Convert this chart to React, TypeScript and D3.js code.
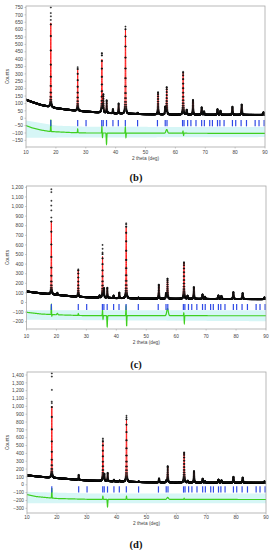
import React from 'react';
import * as d3 from 'd3';

// Bragg reflection positions (2θ, deg)
const braggTicks = [18.3, 27.3, 30.1, 35.35, 35.85, 36.95, 39.1, 40.9, 43.25, 47.35, 54.0, 56.6, 57.2, 62.4, 62.9, 64.1, 65.2, 66.9, 68.8, 69.7, 71.5, 72.4, 74.1, 74.9, 76.3, 79.1, 80.2, 82.0, 83.8, 86.7, 88.0, 89.7];

// Peak positions (2θ) shared by the three patterns
const peakPos = [18.3, 20.3, 27.3, 34.4, 35.4, 35.9, 37.0, 39.1, 41.0, 43.3, 47.4, 54.2, 56.6, 57.1, 62.6, 63.8, 65.9, 68.8, 69.6, 74.1, 75.1, 79.1, 82.2, 89.5];

// Net intensities above background (calculated / observed)
const calcB = [570, 0, 280, 0, 360, 110, 80, 25, 65, 570, 8, 140, 45, 175, 280, 30, 95, 48, 20, 35, 25, 50, 65, 15];
const obsB = [590, 0, 295, 0, 400, 120, 85, 28, 68, 590, 8, 150, 50, 185, 290, 32, 100, 50, 22, 38, 27, 55, 70, 18];
const calcC = [760, 20, 275, 20, 430, 90, 100, 25, 55, 740, 10, 140, 50, 200, 375, 30, 120, 45, 20, 35, 30, 68, 58, 15];
const obsC = [800, 22, 285, 22, 470, 95, 105, 27, 58, 770, 10, 147, 55, 210, 382, 32, 123, 47, 22, 37, 32, 72, 62, 18];
const calcD = [910, 0, 60, 0, 490, 80, 100, 18, 12, 790, 8, 48, 20, 200, 375, 20, 142, 48, 15, 38, 28, 72, 62, 15];
const obsD = [950, 0, 63, 0, 520, 85, 105, 20, 13, 820, 8, 50, 22, 208, 385, 22, 147, 50, 17, 40, 30, 75, 66, 18];

// Extra observed points at peak tops [2θ, counts]
const extraB: [number, number][] = [[18.3, 750], [18.3, 712], [18.32, 690], [35.4, 440]];
const extraC: [number, number][] = [[18.3, 1180], [18.3, 1150], [18.32, 1060], [18.28, 1010], [18.3, 960], [35.4, 600], [35.42, 560], [43.3, 825]];
const extraD: [number, number][] = [[18.3, 1420], [18.3, 1380], [18.32, 1210], [18.28, 1060], [35.4, 590], [43.3, 880]];

// Background anchors [2θ, counts]
const bgB: [number, number][] = [[10, 125], [12, 110], [15, 90], [20, 68], [25, 55], [30, 45], [35, 38], [40, 32], [50, 27], [60, 24], [90, 22]];
const bgC: [number, number][] = [[10, 115], [15, 95], [20, 80], [25, 65], [30, 55], [35, 50], [40, 45], [50, 40], [60, 38], [90, 35]];
const bgD: [number, number][] = [[10, 120], [15, 100], [20, 85], [25, 70], [30, 55], [35, 48], [40, 42], [50, 32], [60, 28], [90, 25]];

// Difference curve baselines and features
const diffBaseB: [number, number][] = [[10, -50], [12, -65], [15, -80], [18, -90], [25, -97], [30, -100], [90, -103]];
const diffBaseC: [number, number][] = [[10, -102], [15, -120], [20, -128], [30, -137], [90, -138]];
const diffBaseD: [number, number][] = [[10, -125], [13, -150], [17, -165], [20, -175], [30, -185], [90, -188]];
const diffFeatB: [number, number, number][] = [[18.3, 80, 0.15], [27.3, 25, 0.15], [35.4, 45, 0.15], [35.6, -30, 0.15], [36.95, -75, 0.2], [43.25, 40, 0.15], [43.45, -30, 0.15], [57.1, 25, 0.6], [62.55, 15, 0.15], [62.75, -15, 0.15]];
const diffFeatC: [number, number, number][] = [[18.3, 100, 0.15], [18.45, -20, 0.15], [20.3, 15, 0.4], [27.3, 20, 0.15], [35.4, 60, 0.15], [35.55, -40, 0.15], [36.95, -115, 0.2], [43.25, 100, 0.15], [43.45, -110, 0.15], [57.1, 75, 0.6], [62.55, 30, 0.15], [62.72, -80, 0.15]];
const diffFeatD: [number, number, number][] = [[18.3, 125, 0.15], [35.4, 40, 0.15], [36.95, -95, 0.2], [43.3, 40, 0.15], [57.1, 25, 0.6], [62.6, 15, 0.15]];

// Light band behind the difference curve [2θ, counts]
const bandTopB: [number, number][] = [[10, -15], [20, -50], [30, -58], [90, -60]];
const bandBotB: [number, number][] = [[10, -132], [90, -128]];
const bandTopC: [number, number][] = [[10, -80], [90, -80]];
const bandBotC: [number, number][] = [[10, -180], [90, -195]];
const bandTopD: [number, number][] = [[10, -90], [30, -110], [90, -110]];
const bandBotD: [number, number][] = [[10, -237], [90, -237]];

const xTicks = [10, 20, 30, 40, 50, 60, 70, 80, 90];

function interp(anchors: [number, number][]) {
  return d3.scaleLinear().domain(anchors.map(a => a[0])).range(anchors.map(a => a[1])).clamp(true);
}

function profile(t: number, heights: number[]) {
  let s = 0;
  for (let i = 0; i < peakPos.length; i++) {
    const h = heights[i];
    if (!h) continue;
    const w = 0.14 + 0.002 * (peakPos[i] - 10);
    const d = (t - peakPos[i]) / w;
    if (Math.abs(d) > 60) continue;
    const L = 1 / (1 + 4 * d * d);
    const G = Math.exp(-4 * Math.LN2 * d * d);
    s += h * (0.45 * L + 0.55 * G);
  }
  return s;
}

const panelDefs = [
  { label: '(b)', x0: 26, x1: 265, y0: 6, y1: 147, yDom: [-195, 760], yTicks: d3.range(-150, 751, 50), labelY: 181, xLabY: 151.8, titleY: 159.5,
    calc: calcB, obs: obsB, extra: extraB, bg: bgB, dBase: diffBaseB, dFeat: diffFeatB, bTop: bandTopB, bBot: bandBotB, tick: [-12, -55] },
  { label: '(c)', x0: 26.5, x1: 266, y0: 186, y1: 329, yDom: [-276, 1214], yTicks: d3.range(-200, 1201, 100), labelY: 368, xLabY: 335.8, titleY: 343.5,
    calc: calcC, obs: obsC, extra: extraC, bg: bgC, dBase: diffBaseC, dFeat: diffFeatC, bTop: bandTopC, bBot: bandBotC, tick: [-15, -77] },
  { label: '(d)', x0: 27, x1: 266, y0: 372, y1: 513, yDom: [-360, 1438], yTicks: d3.range(-300, 1401, 100), labelY: 548, xLabY: 517.5, titleY: 525,
    calc: calcD, obs: obsD, extra: extraD, bg: bgD, dBase: diffBaseD, dFeat: diffFeatD, bTop: bandTopD, bBot: bandBotD, tick: [-20, -100] },
];

const fmt = d3.format(',');
const FONT = 'Liberation Sans, Arial, sans-serif';

function Panel({ p, idx }: { p: typeof panelDefs[number]; idx: number }) {
  const x = d3.scaleLinear().domain([10, 90]).range([p.x0, p.x1]);
  const y = d3.scaleLinear().domain(p.yDom).range([p.y1, p.y0]);
  const bg = interp(p.bg);
  const dBase = interp(p.dBase);
  const bTop = interp(p.bTop);
  const bBot = interp(p.bBot);

  const fine = d3.range(10, 90.0001, 0.005);
  const calcLine = d3.line<number>().x(t => x(t)).y(t => y(bg(t) + profile(t, p.calc)))(fine) || '';

  const step = d3.range(10, 90.0001, 0.02);
  let obsPath = '';
  const a = 0.95;
  const pts: [number, number][] = step.map(t => [t, bg(t) + profile(t, p.obs)] as [number, number]).concat(p.extra);
  for (const [t, v] of pts) {
    const px = x(t), py = y(v);
    obsPath += `M${(px - a).toFixed(2)},${py.toFixed(2)}h${2 * a}M${px.toFixed(2)},${(py - a).toFixed(2)}v${2 * a}`;
  }

  const diffLine = d3.line<number>().x(t => x(t)).y(t => {
    let v = dBase(t);
    for (const [c, amp, w] of p.dFeat) {
      const d = (t - c) / w;
      v += amp * Math.exp(-4 * Math.LN2 * d * d);
    }
    return y(v);
  })(d3.range(10, 90.0001, 0.01)) || '';

  const band = d3.area<number>().x(t => x(t)).y0(t => y(bBot(t))).y1(t => y(bTop(t)))(d3.range(10, 90.0001, 0.5)) || '';

  const clipId = `clip${idx}`;
  const midY = (p.y0 + p.y1) / 2;
  return (
    <g>
      <defs>
        <clipPath id={clipId}><rect x={p.x0} y={p.y0} width={p.x1 - p.x0} height={p.y1 - p.y0} /></clipPath>
      </defs>
      <g clipPath={`url(#${clipId})`}>
        <path d={band} fill="#d6f6f6" />
        <path d={calcLine} fill="none" stroke="#ff1a1a" strokeWidth={1} />
        <path d={obsPath} fill="none" stroke="#111" strokeWidth={0.7} />
        <path d={diffLine} fill="none" stroke="#3fcf1f" strokeWidth={1.2} />
        {braggTicks.map((t, i) => (
          <line key={i} x1={x(t)} x2={x(t)} y1={y(p.tick[0])} y2={y(p.tick[1])} stroke="#2f4ae6" strokeWidth={1.2} />
        ))}
      </g>
      <rect x={p.x0} y={p.y0} width={p.x1 - p.x0} height={p.y1 - p.y0} fill="none" stroke="#a8a8a8" strokeWidth={0.8} />
      {p.yTicks.map(v => (
        <g key={v}>
          <line x1={p.x0 - 1.5} x2={p.x0} y1={y(v)} y2={y(v)} stroke="#999" strokeWidth={0.5} />
          <text x={p.x0 - 3} y={y(v) + 1.7} fontSize={4.8} fill="#444" textAnchor="end" fontFamily={FONT}>{fmt(v)}</text>
        </g>
      ))}
      {xTicks.map(v => (
        <g key={v}>
          <line x1={x(v)} x2={x(v)} y1={p.y1} y2={p.y1 + 1.5} stroke="#999" strokeWidth={0.5} />
          <text x={x(v)} y={p.xLabY + 1.7} fontSize={4.8} fill="#444" textAnchor="middle" fontFamily={FONT}>{v}</text>
        </g>
      ))}
      <text x={(p.x0 + p.x1) / 2} y={p.titleY} fontSize={4.8} fill="#444" textAnchor="middle" fontFamily={FONT}>2 theta (deg)</text>
      <text transform={`translate(8.5,${midY}) rotate(-90)`} fontSize={4.8} fill="#444" textAnchor="middle" fontFamily={FONT}>Counts</text>
      <text x={136} y={p.labelY} fontSize={10.5} fontWeight="bold" fill="#111" textAnchor="middle" fontFamily="Liberation Serif, DejaVu Serif, serif">{p.label}</text>
    </g>
  );
}

export default function App() {
  return (
    <svg width={272} height={550} style={{ position: 'absolute', left: 0, top: 0, background: '#fff' }}>
      <rect x={0} y={0} width={272} height={550} fill="#fff" />
      {panelDefs.map((p, i) => <Panel key={i} p={p} idx={i} />)}
    </svg>
  );
}
